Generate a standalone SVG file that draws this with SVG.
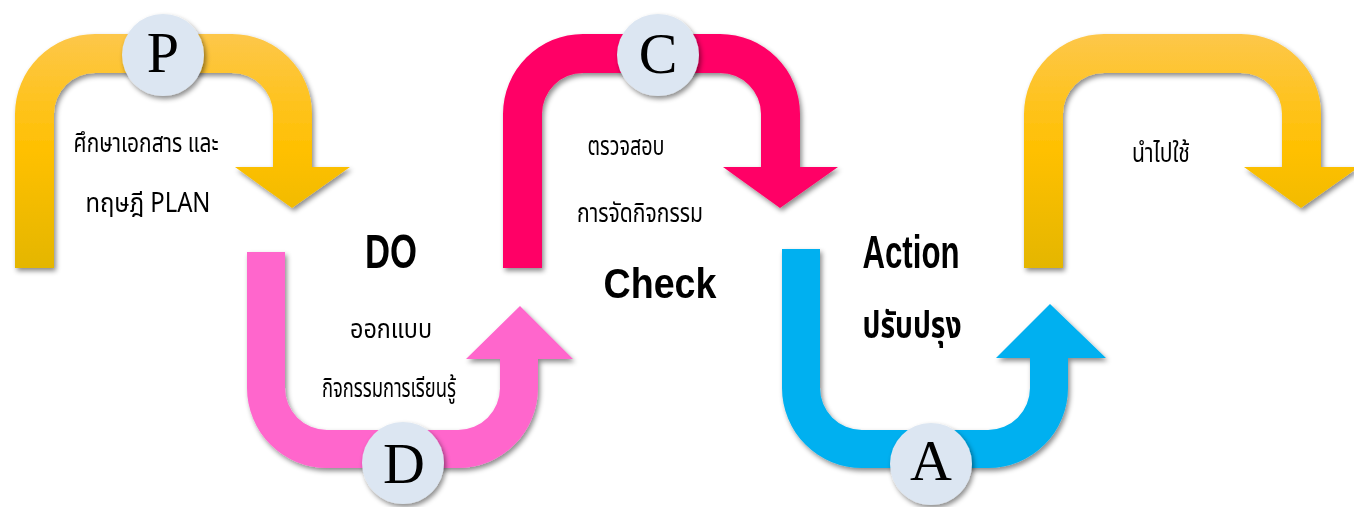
<svg xmlns="http://www.w3.org/2000/svg" width="1354" height="507" viewBox="0 0 1354 507">
<defs>
<linearGradient id="gold" x1="0" y1="0" x2="0" y2="1">
<stop offset="0" stop-color="#FDC74A"/>
<stop offset="0.5" stop-color="#FFC000"/>
<stop offset="1" stop-color="#E4B600"/>
</linearGradient>
<filter id="sh" x="-10%" y="-10%" width="130%" height="130%">
<feDropShadow dx="2" dy="3" stdDeviation="2.5" flood-color="#000" flood-opacity="0.45"/>
</filter>
<path id="capArrow" d="M15,268 L15,114 A80,80 0 0 1 95,34 L232,34 A80,80 0 0 1 312,114 L312,167 L350,167 L292,208 L235,167 L273,167 L273,114 A41,41 0 0 0 232,73 L95,73 A41,41 0 0 0 54,114 L54,268 Z"/>
</defs>
<style>
.th{font-family:"Noto Sans Thai","Noto Sans","DejaVu Sans",sans-serif;font-size:27px;fill:#000;text-anchor:middle}
.big{font-family:"Liberation Sans",Arial,sans-serif;font-weight:bold;fill:#000;text-anchor:middle}
.thb{font-family:"Noto Sans Thai","Noto Sans","DejaVu Sans",sans-serif;font-weight:bold;font-size:37px;fill:#000;text-anchor:middle}
.ltr{font-family:"Liberation Serif","Times New Roman",serif;font-size:58px;fill:#000;text-anchor:middle}
.circ{fill:#DCE6F2;filter:url(#sh)}
</style>
<rect width="1354" height="507" fill="#fff"/>
<g id="connectors" filter="url(#sh)">
<use href="#capArrow" fill="url(#gold)"/>
<path d="M247,252 L247,388 A80,80 0 0 0 327,468 L458,468 A80,80 0 0 0 538,388 L538,359 L573,359 L520,306 L466,359 L500,359 L500,388 A42,42 0 0 1 458,430 L327,430 A42,42 0 0 1 285,388 L285,252 Z" fill="#FF66CC"/>
<use href="#capArrow" transform="translate(488,0)" fill="#FF0066"/>
<path d="M782,249 L782,388 A80,80 0 0 0 862,468 L988,468 A80,80 0 0 0 1068,388 L1068,358 L1106,358 L1050,304 L996,358 L1030,358 L1030,388 A42,42 0 0 1 988,430 L862,430 A42,42 0 0 1 820,388 L820,249 Z" fill="#00B0F0"/>
<use href="#capArrow" transform="translate(1009,0)" fill="url(#gold)"/>
</g>
<g id="plan">
<circle class="circ" cx="163" cy="55" r="41"/>
<text class="ltr" x="163" y="72">P</text>
<text class="th" x="146" y="152" textLength="145" lengthAdjust="spacingAndGlyphs">ศึกษาเอกสาร และ</text>
<text class="th" x="148" y="212" textLength="125" lengthAdjust="spacingAndGlyphs">ทฤษฎี PLAN</text>
</g>
<g id="do">
<circle class="circ" cx="403" cy="463" r="41"/>
<text class="ltr" x="404" y="483">D</text>
<text class="big" x="391" y="268" font-size="48" textLength="52" lengthAdjust="spacingAndGlyphs">DO</text>
<text class="th" x="391" y="338" textLength="82" lengthAdjust="spacingAndGlyphs">ออกแบบ</text>
<text class="th" x="389" y="397" textLength="134" lengthAdjust="spacingAndGlyphs">กิจกรรมการเรียนรู้</text>
</g>
<g id="check">
<circle class="circ" cx="658" cy="55" r="41"/>
<text class="ltr" x="658" y="73">C</text>
<text class="th" x="626" y="155" textLength="77" lengthAdjust="spacingAndGlyphs">ตรวจสอบ</text>
<text class="th" x="640" y="222" textLength="126" lengthAdjust="spacingAndGlyphs">การจัดกิจกรรม</text>
<text class="big" x="660" y="298" font-size="43" textLength="113" lengthAdjust="spacingAndGlyphs">Check</text>
</g>
<g id="action">
<circle class="circ" cx="931" cy="464" r="41"/>
<text class="ltr" x="931" y="480">A</text>
<text class="big" x="911" y="268" font-size="46" textLength="97" lengthAdjust="spacingAndGlyphs">Action</text>
<text class="thb" x="912" y="338" textLength="99" lengthAdjust="spacingAndGlyphs">ปรับปรุง</text>
</g>
<g id="apply">
<text class="th" x="1161" y="162" textLength="58" lengthAdjust="spacingAndGlyphs">นำไปใช้</text>
</g>
</svg>
